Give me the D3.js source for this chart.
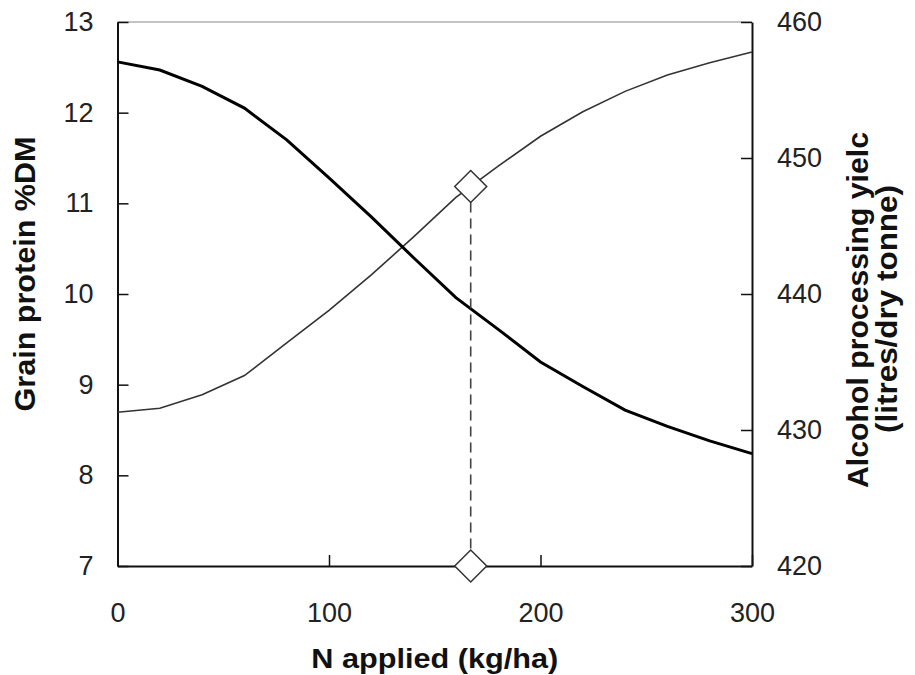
<!DOCTYPE html>
<html>
<head>
<meta charset="utf-8">
<script src="https://cdn.jsdelivr.net/npm/d3@7"></script>
<style>
  body { margin: 0; background: #fff; }
  svg { display: block; }
  text { font-family: "Liberation Sans", Arial, sans-serif; fill: #222; }
  .title { font-weight: bold; fill: #111; }
</style>
</head>
<body>
<div id="chart"></div>
<script>
// N applied (kg/ha)
var nApplied = [0, 20, 40, 60, 80, 100, 120, 140, 160, 180, 200, 220, 240, 260, 280, 300];
// grain protein %DM (left axis)
var protein = [12.56, 12.47, 12.29, 12.05, 11.70, 11.28, 10.85, 10.40, 9.96, 9.61, 9.25, 8.98, 8.72, 8.54, 8.38, 8.24];
// alcohol yield litres/dry tonne (right axis)
var alcohol = [431.3, 431.6, 432.6, 434.0, 436.4, 438.8, 441.4, 444.2, 447.1, 449.4, 451.6, 453.4, 454.9, 456.1, 457.0, 457.8];

// the optimum marker and its drop line
var markerN = 167;
var markerYield = [447.9, 420];

var xTicks = [0, 100, 200, 300];
var leftTicks = [7, 8, 9, 10, 11, 12, 13];
var rightTicks = [420, 430, 440, 450, 460];

var W = 915, H = 675;
var margin = {top: 22, right: 163, bottom: 109, left: 117.5};

var svg = d3.select("#chart").append("svg")
    .attr("width", W).attr("height", H);

var x = d3.scaleLinear().domain([0, 300]).range([margin.left, W - margin.right]);
var yL = d3.scaleLinear().domain([7, 13]).range([H - margin.bottom, margin.top]);
var yR = d3.scaleLinear().domain([420, 460]).range([H - margin.bottom, margin.top]);

// top frame line (thin grey)
svg.append("line")
    .attr("x1", x(0)).attr("x2", x(300))
    .attr("y1", yL(13)).attr("y2", yL(13))
    .attr("stroke", "#888").attr("stroke-width", 1);

function styleAxis(g, w) {
    g.select(".domain").attr("stroke", "#111").attr("stroke-width", w);
    g.selectAll(".tick line").attr("stroke", "#111").attr("stroke-width", 1.5);
    g.selectAll(".tick text").attr("font-size", 27).attr("fill", "#222");
}

// bottom axis, ticks pointing up
var gx = svg.append("g")
    .attr("transform", "translate(0," + yL(7) + ")")
    .call(d3.axisBottom(x).tickValues(xTicks).tickSize(-11).tickSizeOuter(0).tickPadding(37));
styleAxis(gx, 2);

// left axis, ticks pointing in
var gl = svg.append("g")
    .attr("transform", "translate(" + x(0) + ",0)")
    .call(d3.axisLeft(yL).tickValues(leftTicks).tickFormat(d3.format("d"))
        .tickSize(-11).tickSizeOuter(0).tickPadding(24));
styleAxis(gl, 2);

// right axis, ticks pointing in
var gr = svg.append("g")
    .attr("transform", "translate(" + x(300) + ",0)")
    .call(d3.axisRight(yR).tickValues(rightTicks).tickFormat(d3.format("d"))
        .tickSize(-11).tickSizeOuter(0).tickPadding(25));
styleAxis(gr, 2);

var rows = nApplied.map(function(n, i) {
    return {n: n, p: protein[i], a: alcohol[i]};
});

// alcohol yield, thin line
svg.append("path")
    .datum(rows)
    .attr("fill", "none")
    .attr("stroke", "#333")
    .attr("stroke-width", 1.6)
    .attr("d", d3.line().x(function(d) { return x(d.n); }).y(function(d) { return yR(d.a); }));

// protein, thick line
svg.append("path")
    .datum(rows)
    .attr("fill", "none")
    .attr("stroke", "#000")
    .attr("stroke-width", 3)
    .attr("d", d3.line().x(function(d) { return x(d.n); }).y(function(d) { return yL(d.p); }));

// dashed drop line
svg.append("line")
    .attr("x1", x(markerN)).attr("x2", x(markerN))
    .attr("y1", yR(markerYield[0])).attr("y2", yR(markerYield[1]))
    .attr("stroke", "#444").attr("stroke-width", 1.6)
    .attr("stroke-dasharray", "10,6");

// diamonds
var s = 16;
svg.selectAll("path.diamond")
    .data(markerYield)
    .enter().append("path")
    .attr("class", "diamond")
    .attr("transform", function(d) { return "translate(" + x(markerN) + "," + yR(d) + ")"; })
    .attr("d", "M0," + (-s) + "L" + s + ",0L0," + s + "L" + (-s) + ",0Z")
    .attr("fill", "#fff")
    .attr("stroke", "#333")
    .attr("stroke-width", 1.5);

// axis titles (stretched to the lengths seen in the original)
svg.append("text")
    .attr("class", "title")
    .attr("x", x(150)).attr("y", 668)
    .attr("text-anchor", "middle")
    .attr("font-size", 28)
    .attr("textLength", 247).attr("lengthAdjust", "spacingAndGlyphs")
    .text("N applied (kg/ha)");

svg.append("text")
    .attr("class", "title")
    .attr("transform", "translate(35,274) rotate(-90)")
    .attr("text-anchor", "middle")
    .attr("font-size", 29)
    .attr("textLength", 275).attr("lengthAdjust", "spacingAndGlyphs")
    .text("Grain protein %DM");

svg.append("text")
    .attr("class", "title")
    .attr("transform", "translate(868,310) rotate(-90)")
    .attr("text-anchor", "middle")
    .attr("font-size", 29)
    .attr("textLength", 356).attr("lengthAdjust", "spacingAndGlyphs")
    .text("Alcohol processing yielc");

svg.append("text")
    .attr("class", "title")
    .attr("transform", "translate(897,309) rotate(-90)")
    .attr("text-anchor", "middle")
    .attr("font-size", 29)
    .attr("textLength", 248).attr("lengthAdjust", "spacingAndGlyphs")
    .text("(litres/dry tonne)");
</script>
</body>
</html>
